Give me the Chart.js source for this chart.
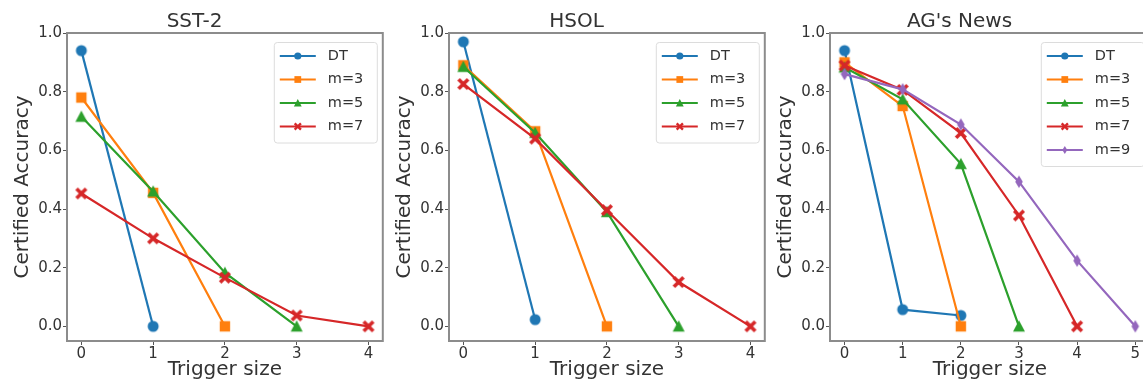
<!DOCTYPE html>
<html>
<head>
<meta charset="utf-8">
<script src="https://cdn.jsdelivr.net/npm/chart.js@4.4.0/dist/chart.umd.min.js"></script>
<style>
  html, body { margin:0; padding:0; background:#fff; width:1143px; height:386px; overflow:hidden; position:relative; }
  canvas { position:absolute; top:0; }
</style>
</head>
<body>
<canvas id="sst" width="390" height="386" style="left:0px"></canvas>
<canvas id="hsol" width="390" height="386" style="left:382px"></canvas>
<canvas id="ag" width="394" height="386" style="left:763px"></canvas>
<script>
// series shared by all panels
const seriesNames = ['DT', 'm=3', 'm=5', 'm=7', 'm=9']
const colors = ['#1f77b4', '#ff7f0e', '#2ca02c', '#d62728', '#9467bd']
const markers = ['circle', 'square', 'triangle', 'x', 'thindiamond']
const yTicks = [0.0, 0.2, 0.4, 0.6, 0.8, 1.0]

// SST-2
const sstTrigger = [0, 1, 2, 3, 4]
const sstDT = [0.94, 0.00]
const sstM3 = [0.78, 0.455, 0.00]
const sstM5 = [0.715, 0.46, 0.183, 0.00]
const sstM7 = [0.453, 0.30, 0.166, 0.037, 0.00]

// HSOL
const hsolTrigger = [0, 1, 2, 3, 4]
const hsolDT = [0.97, 0.023]
const hsolM3 = [0.89, 0.665, 0.00]
const hsolM5 = [0.885, 0.66, 0.39, 0.00]
const hsolM7 = [0.826, 0.64, 0.396, 0.151, 0.00]

// AG's News
const agTrigger = [0, 1, 2, 3, 4, 5]
const agDT = [0.94, 0.057, 0.037]
const agM3 = [0.90, 0.751, 0.00]
const agM5 = [0.883, 0.774, 0.554, 0.00]
const agM7 = [0.889, 0.806, 0.659, 0.378, 0.00]
const agM9 = [0.86, 0.808, 0.688, 0.493, 0.224, 0.00]

const FONT = "'DejaVu Sans', sans-serif"
const TEXT = '#333'
const SPINE = '#8c8c8c'

function drawMarker(ctx, shape, x, y, s, color) {
  ctx.save()
  ctx.fillStyle = color
  ctx.strokeStyle = color
  ctx.beginPath()
  if (shape == 'circle') {
    ctx.arc(x, y, 5.5 * s, 0, Math.PI * 2)
    ctx.fill()
  } else if (shape == 'square') {
    ctx.rect(x - 5.2 * s, y - 5.2 * s, 10.4 * s, 10.4 * s)
    ctx.fill()
  } else if (shape == 'triangle') {
    ctx.moveTo(x, y - 6 * s)
    ctx.lineTo(x + 6 * s, y + 5.2 * s)
    ctx.lineTo(x - 6 * s, y + 5.2 * s)
    ctx.closePath()
    ctx.fill()
  } else if (shape == 'x') {
    ctx.lineWidth = 3.6 * s
    ctx.lineCap = 'butt'
    const r = 4.8 * s
    ctx.moveTo(x - r, y - r); ctx.lineTo(x + r, y + r)
    ctx.moveTo(x - r, y + r); ctx.lineTo(x + r, y - r)
    ctx.stroke()
  } else if (shape == 'thindiamond') {
    ctx.moveTo(x, y - 6.2 * s)
    ctx.lineTo(x + 3.8 * s, y)
    ctx.lineTo(x, y + 6.2 * s)
    ctx.lineTo(x - 3.8 * s, y)
    ctx.closePath()
    ctx.fill()
  }
  ctx.restore()
}

function markerImage(shape, color) {
  const c = document.createElement('canvas')
  c.width = 16; c.height = 16
  drawMarker(c.getContext('2d'), shape, 8, 8, 1, color)
  return c
}
const markerImgs = markers.map((m, i) => markerImage(m, colors[i]))

// box round the axes + legend in the upper right corner
const framePlugin = {
  id: 'frame',
  afterDraw(chart) {
    const ctx = chart.ctx
    const a = chart.chartArea
    ctx.save()
    ctx.strokeStyle = SPINE
    ctx.lineWidth = 2
    ctx.strokeRect(a.left, a.top, a.right - a.left, a.bottom - a.top)

    const ds = chart.data.datasets
    const w = 103, rowH = 23.5
    const left = a.right - 6 - w, top = a.top + 9
    const h = 14 + (ds.length - 1) * rowH + 16
    ctx.fillStyle = 'rgba(255,255,255,0.85)'
    ctx.strokeStyle = '#dcdcdc'
    ctx.lineWidth = 1
    ctx.beginPath()
    ctx.roundRect(left + 0.5, top + 0.5, w, h, 3)
    ctx.fill()
    ctx.stroke()
    ds.forEach((d, i) => {
      const y = top + 14 + i * rowH
      ctx.strokeStyle = d.borderColor
      ctx.lineWidth = 2.2
      ctx.beginPath()
      ctx.moveTo(left + 6, y); ctx.lineTo(left + 42, y)
      ctx.stroke()
      drawMarker(ctx, markers[i], left + 24, y, 0.65, d.borderColor)
      ctx.fillStyle = TEXT
      ctx.font = '14.5px ' + FONT
      ctx.textBaseline = 'middle'
      ctx.textAlign = 'left'
      ctx.fillText(d.label, left + 54, y)
    })
    ctx.restore()
  }
}

function makeChart(id, title, trig, series) {
  const span = trig[trig.length - 1] - trig[0]
  const datasets = series.map((vals, i) => ({
    label: seriesNames[i],
    data: vals.map((v, k) => ({ x: trig[k], y: v })),
    borderColor: colors[i],
    backgroundColor: colors[i],
    borderWidth: 2.2,
    pointStyle: markerImgs[i],
    pointRadius: 5,
    pointHoverRadius: 5,
    tension: 0,
    fill: false,
    order: series.length - i
  }))
  return new Chart(document.getElementById(id), {
    type: 'line',
    data: { datasets },
    plugins: [framePlugin],
    options: {
      responsive: false,
      animation: false,
      events: [],
      layout: { padding: { left: 0, right: 1, top: 0, bottom: 0 } },
      plugins: {
        legend: { display: false },
        tooltip: { enabled: false },
        title: {
          display: true, text: title, color: TEXT,
          font: { family: FONT, size: 20, weight: 'normal', lineHeight: 1 },
          padding: { top: 12, bottom: 1 }
        }
      },
      scales: {
        x: {
          type: 'linear',
          min: trig[0] - 0.05 * span,
          max: trig[trig.length - 1] + 0.05 * span,
          afterBuildTicks: s => { s.ticks = trig.map(v => ({ value: v })) },
          afterFit: s => { s.height = 45 },
          grid: { drawOnChartArea: false, drawTicks: true, tickLength: 4, tickColor: '#555' },
          border: { display: true, color: SPINE, width: 2 },
          ticks: { color: TEXT, font: { family: FONT, size: 15 }, padding: 0, maxRotation: 0, callback: v => String(v) },
          title: { display: true, text: 'Trigger size', color: TEXT, font: { family: FONT, size: 20, lineHeight: 1.2 }, padding: { top: 0, bottom: 4 } }
        },
        y: {
          type: 'linear',
          min: -0.05,
          max: 1.0,
          afterBuildTicks: s => { s.ticks = yTicks.map(v => ({ value: v })) },
          afterFit: s => { s.width = 67 },
          grid: { drawOnChartArea: false, drawTicks: true, tickLength: 4, tickColor: '#555' },
          border: { display: true, color: SPINE, width: 2 },
          ticks: { color: TEXT, font: { family: FONT, size: 15 }, padding: 1, callback: v => v.toFixed(1) },
          title: { display: true, text: 'Certified Accuracy', color: TEXT, font: { family: FONT, size: 20, lineHeight: 1.2 }, padding: { top: 11, bottom: 0 } }
        }
      }
    }
  })
}

makeChart('sst', 'SST-2', sstTrigger, [sstDT, sstM3, sstM5, sstM7])
makeChart('hsol', 'HSOL', hsolTrigger, [hsolDT, hsolM3, hsolM5, hsolM7])
makeChart('ag', "AG's News", agTrigger, [agDT, agM3, agM5, agM7, agM9])
</script>
</body>
</html>
